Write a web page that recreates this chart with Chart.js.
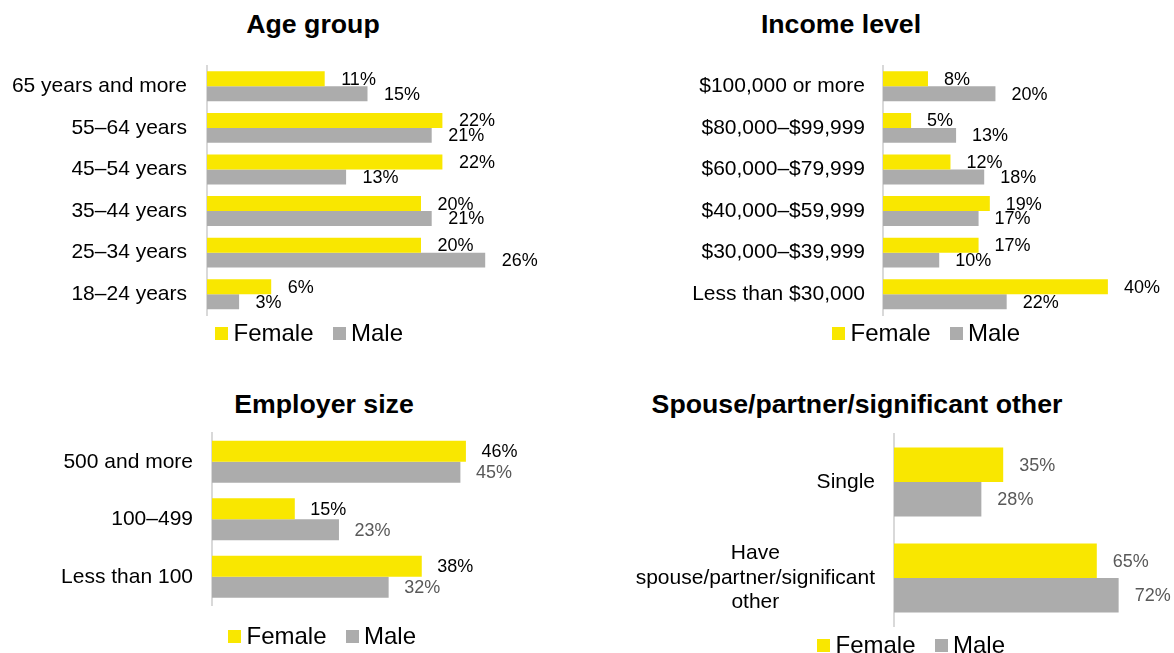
<!DOCTYPE html>
<html>
<head>
<meta charset="utf-8">
<script src="https://cdn.jsdelivr.net/npm/chart.js@4.4.1/dist/chart.umd.min.js"></script>
<style>
  body { margin: 0; width: 1174px; height: 653px; overflow: hidden; background: #fff; position: relative;
         font-family: 'Liberation Sans', Arial, sans-serif; }
  canvas { position: absolute; }
  .title { position: absolute; width: 500px; text-align: center; font-weight: bold; font-size: 26.7px; line-height: 26px; color: #000; }
  .legend { position: absolute; display: flex; align-items: center; font-size: 24px; line-height: 24px; color: #000; white-space: nowrap; }
  .legend .item { display: flex; align-items: center; margin-right: 19px; }
  .legend .box { width: 13px; height: 13px; margin-right: 5.5px; }
</style>
</head>
<body>
<div class="title" style="left:63px; top:11px;">Age group</div>
<div class="title" style="left:591px; top:11px;">Income level</div>
<div class="title" style="left:74px; top:391px;">Employer size</div>
<div class="title" style="left:607px; top:391px;">Spouse/partner/significant other</div>

<canvas id="ageChart" width="560" height="360" style="left:0px; top:0px; width:560px; height:360px;"></canvas>
<canvas id="incomeChart" width="574" height="360" style="left:600px; top:0px; width:574px; height:360px;"></canvas>
<canvas id="employerChart" width="560" height="253" style="left:0px; top:400px; width:560px; height:253px;"></canvas>
<canvas id="partnerChart" width="594" height="253" style="left:580px; top:400px; width:594px; height:253px;"></canvas>

<div class="legend" id="ageLegend" style="left:215px; top:321px;"></div>
<div class="legend" id="incomeLegend" style="left:832px; top:321px;"></div>
<div class="legend" id="employerLegend" style="left:228px; top:624px;"></div>
<div class="legend" id="partnerLegend" style="left:817px; top:633px;"></div>

<script>
const seriesNames = ['Female', 'Male'];
const seriesColors = ['#F9E700', '#ACACAC'];

const ageLabels = ['65 years and more', '55–64 years', '45–54 years', '35–44 years', '25–34 years', '18–24 years'];
const ageFemale = [11, 22, 22, 20, 20, 6];
const ageMale = [15, 21, 13, 21, 26, 3];

const incomeLabels = ['$100,000 or more', '$80,000–$99,999', '$60,000–$79,999', '$40,000–$59,999', '$30,000–$39,999', 'Less than $30,000'];
const incomeFemale = [8, 5, 12, 19, 17, 40];
const incomeMale = [20, 13, 18, 17, 10, 22];

const employerLabels = ['500 and more', '100–499', 'Less than 100'];
const employerFemale = [46, 15, 38];
const employerMale = [45, 23, 32];

const partnerLabels = ['Single', ['Have', 'spouse/partner/significant', 'other']];
const partnerFemale = [35, 65];
const partnerMale = [28, 72];

const FONT = "'Liberation Sans', Arial, sans-serif";

// value labels at the end of each bar
const barLabels = {
  id: 'barLabels',
  afterDatasetsDraw(chart, args, opts) {
    const ctx = chart.ctx;
    ctx.save();
    ctx.font = opts.size + 'px ' + FONT;
    ctx.textAlign = 'left';
    ctx.textBaseline = 'middle';
    chart.data.datasets.forEach((ds, i) => {
      const meta = chart.getDatasetMeta(i);
      ctx.fillStyle = opts.colors[i];
      meta.data.forEach((bar, j) => {
        ctx.fillText(ds.data[j] + '%', bar.x + opts.offset, bar.y + 1);
      });
    });
    ctx.restore();
  }
};

// category labels whose lines are centred within their block (spouse chart)
const blockTicks = {
  id: 'blockTicks',
  afterDraw(chart) {
    const ctx = chart.ctx;
    const y = chart.scales.y;
    ctx.save();
    ctx.font = '21px ' + FONT;
    ctx.fillStyle = '#000';
    ctx.textAlign = 'center';
    ctx.textBaseline = 'middle';
    const right = chart.chartArea.left - 19;
    chart.data.labels.forEach((label, i) => {
      const lines = [].concat(label);
      const w = Math.max(...lines.map(l => ctx.measureText(l).width));
      const cy = y.getPixelForTick(i);
      lines.forEach((line, k) => {
        ctx.fillText(line, right - w / 2, cy + (k - (lines.length - 1) / 2) * 24.5);
      });
    });
    ctx.restore();
  }
};

function makeChart(id, labels, female, male, cfg) {
  const chart = new Chart(document.getElementById(id), {
    type: 'bar',
    data: {
      labels: labels,
      datasets: [
        { label: seriesNames[0], data: female, backgroundColor: seriesColors[0] },
        { label: seriesNames[1], data: male, backgroundColor: seriesColors[1] }
      ]
    },
    options: {
      indexAxis: 'y',
      responsive: false,
      animation: false,
      events: [],
      categoryPercentage: cfg.catPct,
      barPercentage: 1,
      layout: { padding: cfg.padding },
      scales: {
        x: { type: 'linear', min: 0, max: cfg.max, display: false },
        y: {
          afterFit: s => { s.width = cfg.yWidth; },
          grid: { display: false, drawTicks: false },
          border: { display: true, color: '#D9D9D9', width: 2 },
          ticks: {
            display: cfg.ticks,
            autoSkip: false,
            padding: cfg.tickPad,
            color: '#000',
            font: { family: FONT, size: 21 }
          }
        }
      },
      plugins: {
        legend: { display: false },
        title: { display: false },
        tooltip: { enabled: false },
        barLabels: { size: 18, offset: cfg.offset, colors: cfg.labelColors }
      }
    },
    plugins: cfg.ticks ? [barLabels] : [barLabels, blockTicks]
  });
  return chart;
}

function buildLegend(chart, id) {
  const el = document.getElementById(id);
  chart.data.datasets.forEach(ds => {
    const item = document.createElement('span');
    item.className = 'item';
    const box = document.createElement('span');
    box.className = 'box';
    box.style.background = ds.backgroundColor;
    item.appendChild(box);
    item.appendChild(document.createTextNode(ds.label));
    el.appendChild(item);
  });
}

const ageChart = makeChart('ageChart', ageLabels, ageFemale, ageMale, {
  max: 30, yWidth: 207, tickPad: 20, catPct: 0.72, ticks: true, offset: 16.5,
  padding: { left: 0, right: 32, top: 65.5, bottom: 45 }, labelColors: ['#000', '#000']
});
const incomeChart = makeChart('incomeChart', incomeLabels, incomeFemale, incomeMale, {
  max: 45, yWidth: 283, tickPad: 18, catPct: 0.72, ticks: true, offset: 16,
  padding: { left: 0, right: 38, top: 65.5, bottom: 45 }, labelColors: ['#000', '#000']
});
const employerChart = makeChart('employerChart', employerLabels, employerFemale, employerMale, {
  max: 50, yWidth: 212, tickPad: 19, catPct: 0.73, ticks: true, offset: 15.5,
  padding: { left: 0, right: 72, top: 33, bottom: 47.5 }, labelColors: ['#000', '#595959']
});
const partnerChart = makeChart('partnerChart', partnerLabels, partnerFemale, partnerMale, {
  max: 80, yWidth: 314, tickPad: 19, catPct: 0.72, ticks: false, offset: 16,
  padding: { left: 0, right: 30.4, top: 34, bottom: 27 }, labelColors: ['#595959', '#595959']
});

buildLegend(ageChart, 'ageLegend');
buildLegend(incomeChart, 'incomeLegend');
buildLegend(employerChart, 'employerLegend');
buildLegend(partnerChart, 'partnerLegend');
</script>
</body>
</html>
